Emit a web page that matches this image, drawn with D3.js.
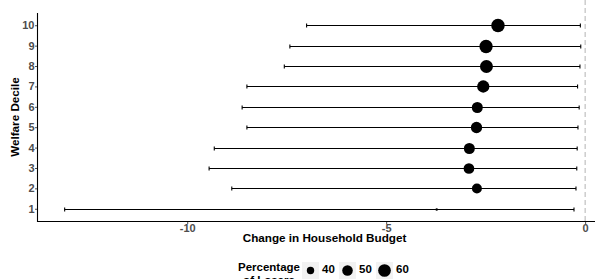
<!DOCTYPE html>
<html><head><meta charset="utf-8">
<script src="https://cdn.jsdelivr.net/npm/d3@7/dist/d3.min.js"></script>
<style>
html,body{margin:0;padding:0;background:#fff;}
svg text{font-family:"Liberation Sans",Arial,Helvetica,sans-serif;font-weight:bold;}
</style></head>
<body>
<svg id="chart" width="595" height="279"></svg>
<script>
// Data
const deciles = [1,2,3,4,5,6,7,8,9,10];
const estimate = [-3.73,-2.72,-2.92,-2.91,-2.73,-2.71,-2.56,-2.48,-2.49,-2.19];
const lower = [-13.08,-8.88,-9.45,-9.32,-8.50,-8.62,-8.50,-7.56,-7.42,-7.00];
const upper = [-0.28,-0.23,-0.21,-0.20,-0.18,-0.15,-0.19,-0.13,-0.11,-0.12];
const pctLosers = [34,48,50.7,52,53.2,52,57.8,61.3,62.9,64];
const xTicks = [-10,-5,0];
const legendValues = [40,50,60];

const svg = d3.select("#chart");
const pLeft = 38, pRight = 611, pTop = 13, pBottom = 221;

const x = d3.scaleLinear().domain([-13.75,0.65]).range([pLeft,pRight]);
const y = d3.scaleLinear().domain([0.4,10.6]).range([pBottom,pTop]);
const sizeT = d3.scaleLinear().domain([34,64]).range([0,1]).clamp(true);
const diam = v => 2.5 + 11 * Math.sqrt(sizeT(v));

const data = deciles.map((d,i)=>({d, est:estimate[i], lo:lower[i], hi:upper[i], p:pctLosers[i]}));

// zero reference line
svg.append("line")
  .attr("x1", x(0)).attr("x2", x(0)).attr("y1", 0).attr("y2", pBottom)
  .attr("stroke", "#b3b3b3").attr("stroke-width", 1).attr("stroke-dasharray", "5,3");

// error bars
const g = svg.append("g");
const capH = 2;
data.forEach(r=>{
  const yy = Math.round(y(r.d)) + 0.5;
  g.append("line").attr("x1", x(r.lo)).attr("x2", x(r.hi)).attr("y1", yy).attr("y2", yy)
    .attr("stroke", "#000").attr("stroke-width", 1.1);
  [r.lo, r.hi].forEach(v=>{
    g.append("line").attr("x1", x(v)).attr("x2", x(v)).attr("y1", yy-capH).attr("y2", yy+capH)
      .attr("stroke", "#000").attr("stroke-width", 1.1);
  });
});
// points
g.selectAll("circle").data(data).join("circle")
  .attr("cx", r=>x(r.est)).attr("cy", r=>Math.round(y(r.d))+0.5)
  .attr("r", r=>diam(r.p)/2).attr("fill", "#000");

// axes
const yAxis = d3.axisLeft(y).tickValues(deciles).tickSize(3).tickPadding(0.5).tickFormat(d=>String(d));
const ya = svg.append("g").attr("transform", `translate(${pLeft},0)`).call(yAxis);
ya.select(".domain").remove();
ya.selectAll(".tick line").attr("stroke", "#4d4d4d");
ya.selectAll(".tick text").attr("fill", "#4d4d4d").style("font-size", "11px");

const xAxis = d3.axisBottom(x).tickValues(xTicks).tickSize(3).tickPadding(0.5).tickFormat(d=>String(d));
const xa = svg.append("g").attr("transform", `translate(0,${pBottom})`).call(xAxis);
xa.select(".domain").remove();
xa.selectAll(".tick line").attr("stroke", "#4d4d4d");
xa.selectAll(".tick text").attr("fill", "#4d4d4d").style("font-size", "11px");

svg.append("line").attr("x1", pLeft).attr("x2", 595).attr("y1", pBottom+0.5).attr("y2", pBottom+0.5)
  .attr("stroke", "#000").attr("stroke-width", 1.1);
svg.append("line").attr("x1", pLeft-0.5).attr("x2", pLeft-0.5).attr("y1", pTop).attr("y2", pBottom+1)
  .attr("stroke", "#000").attr("stroke-width", 1.1);

// axis titles
svg.append("text").attr("x", 324.5).attr("y", 241.5).attr("text-anchor","middle")
  .style("font-size","11.7px").attr("fill","#000").text("Change in Household Budget");
svg.append("text").attr("transform", `translate(18.5,${(pTop+pBottom)/2}) rotate(-90)`)
  .attr("text-anchor","middle").style("font-size","11.7px").attr("fill","#000").text("Welfare Decile");

// legend
const lg = svg.append("g");
lg.append("text").attr("x", 269).attr("y", 270.5).attr("text-anchor","middle")
  .style("font-size","11.5px").attr("fill","#000").text("Percentage");
lg.append("text").attr("x", 269).attr("y", 283.5).attr("text-anchor","middle")
  .style("font-size","11.5px").attr("fill","#000").text("of Losers");
const keyX = [302, 339, 376];
legendValues.forEach((v,i)=>{
  lg.append("rect").attr("x", keyX[i]).attr("y", 262).attr("width", 17).attr("height", 17).attr("fill", "#f2f2f2");
  lg.append("circle").attr("cx", keyX[i]+8.5).attr("cy", 270.5).attr("r", diam(v)/2).attr("fill", "#000");
  lg.append("text").attr("x", keyX[i]+20).attr("y", 273).style("font-size","11.5px").attr("fill","#000").text(v);
});
</script>
</body></html>
